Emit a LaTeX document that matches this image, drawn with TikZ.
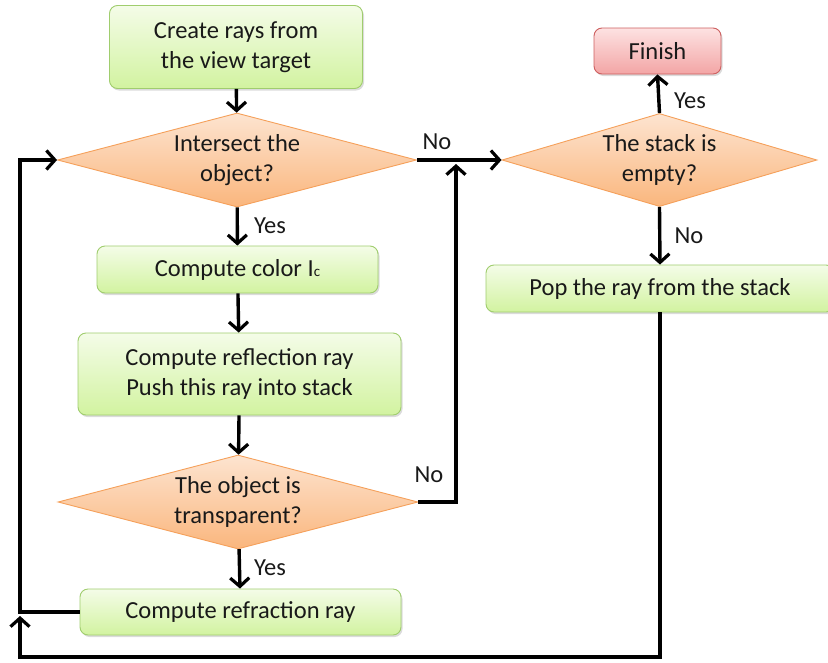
\documentclass[tikz,border=0pt]{standalone}
\usepackage{fontspec}
\setmainfont{Carlito}
\usetikzlibrary{shapes.geometric,arrows.meta,shadows}

\definecolor{greenTop}{RGB}{244,252,232}
\definecolor{greenBot}{RGB}{210,243,160}
\definecolor{greenLine}{RGB}{160,205,110}
\definecolor{orangeTop}{RGB}{253,228,208}
\definecolor{orangeBot}{RGB}{250,182,125}
\definecolor{orangeLine}{RGB}{245,160,90}
\definecolor{redTop}{RGB}{253,226,226}
\definecolor{redBot}{RGB}{243,165,165}
\definecolor{redLine}{RGB}{205,95,95}
\definecolor{ink}{RGB}{25,25,25}

\tikzset{
  every node/.style={font=\fontsize{24.5}{30}\selectfont, text=ink, align=center},
  softshadow/.style={drop shadow={shadow xshift=1.5pt, shadow yshift=-2pt, fill=black!40, opacity=0.35}},
  procbox/.style={rectangle, rounded corners=8pt, draw=greenLine, line width=0.9pt,
    top color=greenTop, bottom color=greenBot, inner sep=0pt, softshadow},
  endbox/.style={rectangle, rounded corners=8pt, draw=redLine, line width=0.9pt,
    top color=redTop, bottom color=redBot, inner sep=0pt, softshadow},
  decision/.style={diamond, draw=orangeLine, line width=0.9pt,
    top color=orangeTop, bottom color=orangeBot, inner sep=0pt, aspect=3.6},
  flow/.style={line width=3.4pt, draw=black, -{Straight Barb[length=8.5pt,width=19pt,line width=3.2pt]}},
  lbl/.style={inner sep=0pt}
}

\begin{document}
\begin{tikzpicture}[x=1pt,y=-1pt]
\useasboundingbox (0,0) rectangle (828,662);

% left column
\node[procbox, minimum width=253pt, minimum height=83pt] (create) at (236,47) {Create rays from\\the view target};
\node[decision, minimum width=359pt, minimum height=94pt] (inter) at (237,160) {Intersect the\\object?};
\node[procbox, minimum width=281pt, minimum height=47pt] (color) at (237.5,269.5) {Compute color I\raisebox{-0.5pt}{\fontsize{15}{17}\selectfont c}};
\node[procbox, minimum width=323pt, minimum height=82pt] (refl) at (239.5,374) {Compute reflection ray\\Push this ray into stack};
\node[decision, minimum width=360pt, minimum height=94pt] (trans) at (238,502) {The object is\\transparent?};
\node[procbox, minimum width=321pt, minimum height=46pt] (refr) at (240.5,612) {Compute refraction ray};

% right column
\node[decision, minimum width=315pt, minimum height=93pt] (stack) at (659.5,160) {The stack is\\empty?};
\node[endbox, minimum width=127pt, minimum height=46pt] (finish) at (657.5,51) {Finish};
\node[procbox, minimum width=348pt, minimum height=47pt] (pop) at (660,288.5) {Pop the ray from the stack};

% helper points for the loop-back routes
\coordinate (loopTop) at (20,612);
\coordinate (loopBot) at (20,657);
\coordinate (loopTip) at (20,616);
\coordinate (joinTip) at (456,164);

% main flow
\draw[flow] (create) -- (inter);
\draw[flow] (inter) -- (color);
\draw[flow] (color) -- (refl);
\draw[flow] (refl) -- (trans);
\draw[flow] (trans) -- (refr);
\draw[flow] (inter.east) -- (stack.west);
\draw[flow] (trans.east) -| (joinTip);
\draw[flow] (stack.north) -- (finish.south);
\draw[flow] (stack.south) -- (pop.north);

% loops back to the intersection test
\draw[flow] (refr.west) -- (loopTop) |- (inter.west);
\draw[flow] (pop.south) |- (loopBot) -- (loopTip);

% branch labels
\node[lbl] (lNo1) at (437,142) {No};
\node[lbl] (lNo2) at (429,475) {No};
\node[lbl] (lYes1) at (270,226) {Yes};
\node[lbl] (lYes2) at (270,568) {Yes};
\node[lbl] (lYes3) at (690,101) {Yes};
\node[lbl] (lNo3) at (689,236) {No};
\end{tikzpicture}
\end{document}
